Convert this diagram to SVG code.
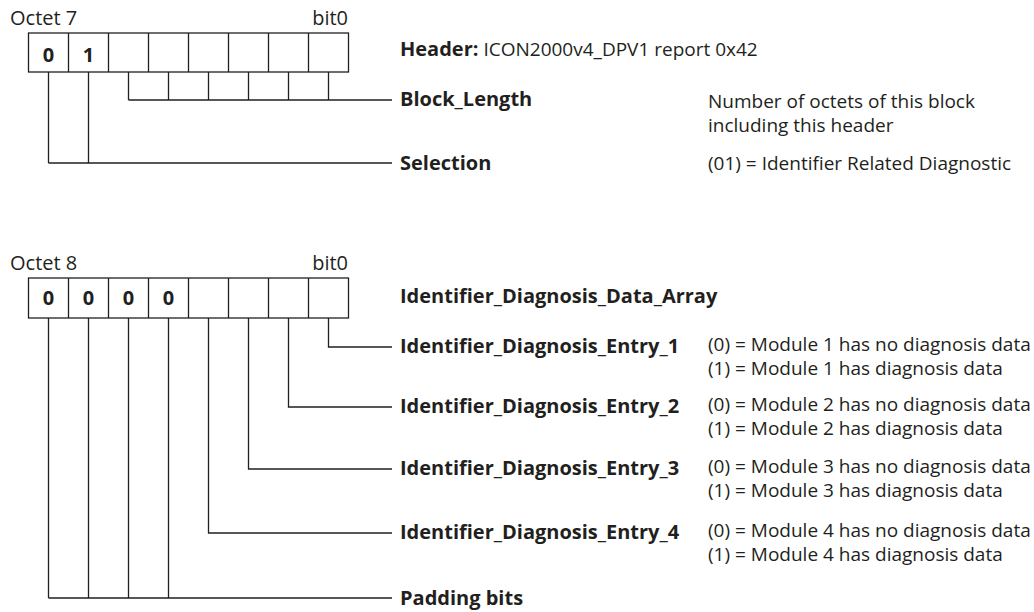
<svg xmlns="http://www.w3.org/2000/svg" width="1034" height="612" viewBox="0 0 1034 612">
<style>
text{font-family:"Open Sans","Noto Sans","Liberation Sans",sans-serif;font-size:19px;fill:#231f20}
.b{font-weight:bold;font-size:20px}
.o{font-size:20px}
.c{text-anchor:middle}
.r{text-anchor:end}
.box{fill:none;stroke:#231f20;stroke-width:1.3}
.ln{fill:none;stroke:#231f20;stroke-width:1.3}
</style>
<rect width="1034" height="612" fill="#fff"/>
<g id="octet7">
<text class="o" x="10" y="25">Octet 7</text>
<text class="o r" x="348" y="25">bit0</text>
<rect class="box" x="28.5" y="33" width="320" height="39"/>
<path class="ln" d="M68.5 33V72M108.5 33V72M148.5 33V72M188.5 33V72M228.5 33V72M268.5 33V72M308.5 33V72"/>
<text class="b c" x="48.5" y="62">0</text>
<text class="b c" x="88.5" y="62">1</text>
</g>
<g id="header">
<text x="400" y="56"><tspan class="b">Header:</tspan> ICON2000v4_DPV1 report 0x42</text>
</g>
<g id="connectors">
<path class="ln" d="M128.5 72V100M168.5 72V100M208.5 72V100M248.5 72V100M288.5 72V100M328.5 72V100M128.5 100H392"/>
<path class="ln" d="M48.5 72V163M88.5 72V163M48.5 163H392"/>
<path class="ln" d="M328.5 318V347H392"/>
<path class="ln" d="M288.5 318V407H392"/>
<path class="ln" d="M248.5 318V469H392"/>
<path class="ln" d="M208.5 318V533H392"/>
<path class="ln" d="M48.5 318V598M88.5 318V598M128.5 318V598M168.5 318V598M48.5 598H392"/>
</g>
<g id="block_length">
<text class="b" x="400" y="106">Block_Length</text>
<text x="708" y="108">Number of octets of this block<tspan x="708" dy="24">including this header</tspan></text>
</g>
<g id="selection">
<text class="b" x="400" y="170">Selection</text>
<text x="708" y="170">(01) = Identifier Related Diagnostic</text>
</g>
<g id="octet8">
<text class="o" x="10" y="270">Octet 8</text>
<text class="o r" x="348" y="270">bit0</text>
<rect class="box" x="28.5" y="278" width="320" height="40"/>
<path class="ln" d="M68.5 278V318M108.5 278V318M148.5 278V318M188.5 278V318M228.5 278V318M268.5 278V318M308.5 278V318"/>
<text class="b c" x="48.5" y="305">0</text>
<text class="b c" x="88.5" y="305">0</text>
<text class="b c" x="128.5" y="305">0</text>
<text class="b c" x="168.5" y="305">0</text>
</g>
<g id="array">
<text class="b" x="400" y="303">Identifier_Diagnosis_Data_Array</text>
</g>
<g id="entry1">
<text class="b" x="400" y="353">Identifier_Diagnosis_Entry_1</text>
<text x="708" y="351">(0) = Module 1 has no diagnosis data<tspan x="708" dy="24">(1) = Module 1 has diagnosis data</tspan></text>
</g>
<g id="entry2">
<text class="b" x="400" y="413">Identifier_Diagnosis_Entry_2</text>
<text x="708" y="411">(0) = Module 2 has no diagnosis data<tspan x="708" dy="24">(1) = Module 2 has diagnosis data</tspan></text>
</g>
<g id="entry3">
<text class="b" x="400" y="475">Identifier_Diagnosis_Entry_3</text>
<text x="708" y="473">(0) = Module 3 has no diagnosis data<tspan x="708" dy="24">(1) = Module 3 has diagnosis data</tspan></text>
</g>
<g id="entry4">
<text class="b" x="400" y="539">Identifier_Diagnosis_Entry_4</text>
<text x="708" y="537">(0) = Module 4 has no diagnosis data<tspan x="708" dy="24">(1) = Module 4 has diagnosis data</tspan></text>
</g>
<g id="padding">
<text class="b" x="400" y="605">Padding bits</text>
</g>
</svg>
